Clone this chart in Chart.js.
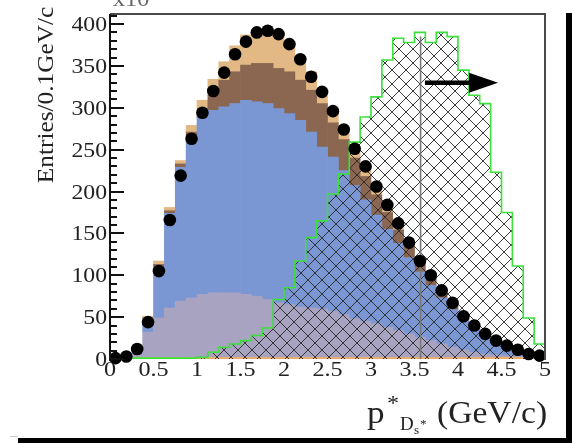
<!DOCTYPE html>
<html>
<head>
<meta charset="utf-8">
<script src="https://cdn.jsdelivr.net/npm/chart.js@4.4.1/dist/chart.umd.min.js"></script>
<style>
  html, body { margin: 0; padding: 0; background: #ffffff; }
  canvas { display: block; }
</style>
</head>
<body>
<canvas id="c" width="572" height="443"></canvas>
<script>
// ---- data (40 bins of 0.125 GeV/c from 0 to 5) ----
const binLow = [0,0.125,0.25,0.375,0.5,0.625,0.75,0.875,1,1.125,1.25,1.375,1.5,1.625,1.75,1.875,2,2.125,2.25,2.375,
                2.5,2.625,2.75,2.875,3,3.125,3.25,3.375,3.5,3.625,3.75,3.875,4,4.125,4.25,4.375,4.5,4.625,4.75,4.875];
const binWidth = 0.125;
const dataCounts = [1,3,12,44,105,166,219,263,294,320,342,364,379,390,392,388,376,358,337,319,
                    296,274,251,230,206,184,162,139,117,100,82,67,51,40,30,22,16,11,6,4];
const orangeBkg = [0,0,2,2,2,2,2,2,2,2,2,2,2,2,2,2,2,2,2,2,2,2,2,2,2,2,2,2,2,2,2,2,2,2,2,2,2,2,2,2];
const lavenderBkg = [0,0,3,30,47,59,67,71,75,77,77,77,75,73,69,65,63,60,59,58,
                     55,51,46,43,40,36,32,28,24,20,16,12,9,6,4,3,2,1,0.5,0];
const blueBkg = [0,1,5,16,61,113,160,192,212,218,222,226,232,232,234,232,228,223,210,193,
                 184,172,159,145,130,117,104,91,78,66,55,45,35,27,20,13,8,5,2.5,1];
const brownBkg = [0,0,0,1,3,3,4,6,8,22,32,38,42,46,48,48,50,48,50,52,
                  41,37,33,28,24,20,16,13,10,9,7,6,5,4,3,3,2,1,1,1];
const tanBkg = [0,0,1,2,4,4,4,8,12,15,22,31,36,40,42,40,34,24,22,18,
                18,15,14,13,11,10,9,7,5,4,3,3,2,2,1,1,1,1,0,0];
const signalMC = [0,0,1,1,1,1,1,1,2,8,14,18,22,28,37,71,85,117,145,165,
                  197,221,259,289,313,357,383,378,390,378,390,385,345,315,305,223,175,111,49,18];
const xTicks = [0,0.5,1,1.5,2,2.5,3,3.5,4,4.5,5];
const yTicks = [0,50,100,150,200,250,300,350,400];
const cutValue = 3.57;      // vertical cut line position
const cutTop = 385;         // top of cut line
const arrowFrom = 3.62, arrowTo = 4.46, arrowY = 330;

// ---- helpers ----
const centers = binLow.map(v => v + binWidth / 2);
const barData = arr => arr.map((v, i) => ({x: centers[i], y: v}));
function histOutline(arr) {
  const pts = [{x: binLow[0], y: 0}];
  arr.forEach((v, i) => {
    pts.push({x: binLow[i], y: v});
    pts.push({x: binLow[i] + binWidth, y: v});
  });
  pts.push({x: binLow[arr.length - 1] + binWidth, y: 0});
  return pts;
}
function makeHatch() {
  const s = 14;
  const c = document.createElement('canvas');
  c.width = s; c.height = s;
  const g = c.getContext('2d');
  g.strokeStyle = 'rgba(40,40,40,0.9)';
  g.lineWidth = 1;
  g.beginPath();
  g.moveTo(-1, -1); g.lineTo(s + 1, s + 1);
  g.moveTo(s + 1, -1); g.lineTo(-1, s + 1);
  g.stroke();
  return g.createPattern(c, 'repeat');
}
const ctx = document.getElementById('c').getContext('2d');
const hatch = makeHatch();
const SERIF = "'Liberation Serif', 'Times New Roman', serif";

function stretchText(c, text, x, y, sx, align) {
  c.save();
  c.translate(x, y);
  c.scale(sx, 1);
  c.textAlign = align;
  c.fillText(text, 0, 0);
  c.restore();
}

const barCommon = {type: 'bar', stack: 'bkg', barPercentage: 1, categoryPercentage: 1, borderWidth: 0};

const decor = {
  id: 'decor',
  afterDatasetDraw(chart, args) {
    if (args.index !== 5) return;
    const c = chart.ctx, x = chart.scales.x, y = chart.scales.y;
    c.save();
    c.strokeStyle = '#7a7a7a';
    c.lineWidth = 1.6;
    c.beginPath();
    c.moveTo(x.getPixelForValue(cutValue), y.getPixelForValue(cutTop));
    c.lineTo(x.getPixelForValue(cutValue), y.getPixelForValue(0));
    c.stroke();
    const ay = y.getPixelForValue(arrowY);
    const ax0 = x.getPixelForValue(arrowFrom), ax1 = x.getPixelForValue(arrowTo);
    c.strokeStyle = '#000'; c.fillStyle = '#000';
    c.lineWidth = 4.5;
    c.beginPath(); c.moveTo(ax0, ay); c.lineTo(ax1 - 20, ay); c.stroke();
    c.beginPath();
    c.moveTo(ax1, ay); c.lineTo(ax1 - 29, ay - 10); c.lineTo(ax1 - 29, ay + 10); c.closePath(); c.fill();
    c.restore();
  },
  afterDraw(chart) {
    const c = chart.ctx, a = chart.chartArea, x = chart.scales.x, y = chart.scales.y;
    c.save();
    // frame
    c.strokeStyle = '#4a4a4a'; c.lineWidth = 2;
    c.beginPath(); c.moveTo(a.left, a.top); c.lineTo(a.right, a.top); c.lineTo(a.right, a.bottom + 1); c.stroke();
    c.strokeStyle = '#111'; c.lineWidth = 2;
    c.beginPath(); c.moveTo(a.left, a.top); c.lineTo(a.left, a.bottom + 2); c.stroke();
    // y ticks (inside)
    c.lineWidth = 2; c.strokeStyle = '#111';
    for (let v = 0; v <= 410; v += 10) {
      const py = Math.round(y.getPixelForValue(v));
      const len = (v % 50 === 0) ? 14 : 7;
      c.beginPath(); c.moveTo(a.left, py); c.lineTo(a.left + len, py); c.stroke();
    }
    // tick labels
    c.fillStyle = '#222';
    c.font = '21px ' + SERIF;
    c.textBaseline = 'alphabetic';
    y.ticks.forEach(t => stretchText(c, String(t.value), a.left - 3, y.getPixelForValue(t.value) + 7, 1.13, 'right'));
    x.ticks.forEach(t => stretchText(c, String(t.value), x.getPixelForValue(t.value), 375.5, 1.15, 'center'));
    // y title
    c.font = '23px ' + SERIF;
    c.translate(45, 95); c.rotate(-Math.PI / 2);
    stretchText(c, 'Entries/0.1GeV/c', 0, 8, 1.1, 'center');
    c.restore();

    c.save();
    c.fillStyle = '#222';
    c.textBaseline = 'alphabetic';
    c.font = '32px ' + SERIF;
    stretchText(c, 'p', 367, 423, 1.1, 'left');
    c.font = '22px ' + SERIF;
    stretchText(c, '*', 387, 410, 1.1, 'left');
    c.font = '18px ' + SERIF;
    stretchText(c, 'D', 400, 430, 1.05, 'left');
    c.font = '12px ' + SERIF;
    stretchText(c, 's', 414, 434, 1.1, 'left');
    stretchText(c, '*', 420, 428, 1.1, 'left');
    c.font = '32px ' + SERIF;
    stretchText(c, '(GeV/c)', 437, 423, 1.05, 'left');
    // clipped exponent at top
    c.fillStyle = '#666';
    c.font = '22px ' + SERIF;
    stretchText(c, 'x10', 113, 6, 1.1, 'left');
    // outer black borders
    c.fillStyle = '#000';
    c.fillRect(566, 13, 6, 430);
    c.fillRect(18, 438, 554, 5);
    c.fillStyle = '#cfcfcf';
    c.fillRect(10, 436, 8, 1);
    c.restore();
  }
};

new Chart(ctx, {
  type: 'bar',
  data: {
    datasets: [
      {...barCommon, label: 'orange', data: barData(orangeBkg), backgroundColor: '#e8ad6c', order: 10},
      {...barCommon, label: 'lavender', data: barData(lavenderBkg), backgroundColor: '#a8a3c1', order: 11},
      {...barCommon, label: 'blue', data: barData(blueBkg), backgroundColor: '#7a97d4', order: 12},
      {...barCommon, label: 'brown', data: barData(brownBkg), backgroundColor: '#8b6650', order: 13},
      {...barCommon, label: 'tan', data: barData(tanBkg), backgroundColor: '#e2b984', order: 14},
      {type: 'line', label: 'signal', stack: 'sig', data: histOutline(signalMC), order: 1,
       borderColor: '#3be03b', borderWidth: 1.6, backgroundColor: hatch, fill: 'origin',
       pointRadius: 0, tension: 0},
      {type: 'scatter', label: 'data', stack: 'dat', data: barData(dataCounts), order: 0,
       pointRadius: 6.3, pointBackgroundColor: '#000', pointBorderWidth: 0, showLine: false, clip: false}
    ]
  },
  options: {
    responsive: false,
    animation: false,
    events: [],
    layout: {padding: {left: 0, top: 14, right: 27, bottom: 0}},
    plugins: {legend: {display: false}, tooltip: {enabled: false}},
    scales: {
      x: {
        type: 'linear', min: 0, max: 5, offset: false,
        grid: {display: false, drawTicks: false, offset: false},
        border: {display: false},
        afterBuildTicks: s => { s.ticks = xTicks.map(v => ({value: v})); },
        ticks: {display: false},
        afterFit: s => { s.height = 84; }
      },
      y: {
        type: 'linear', min: 0, max: 412, stacked: true,
        grid: {display: false, drawTicks: false},
        border: {display: false},
        afterBuildTicks: s => { s.ticks = yTicks.map(v => ({value: v})); },
        ticks: {display: false},
        afterFit: s => { s.width = 110; }
      }
    }
  },
  plugins: [decor]
});
</script>
</body>
</html>
